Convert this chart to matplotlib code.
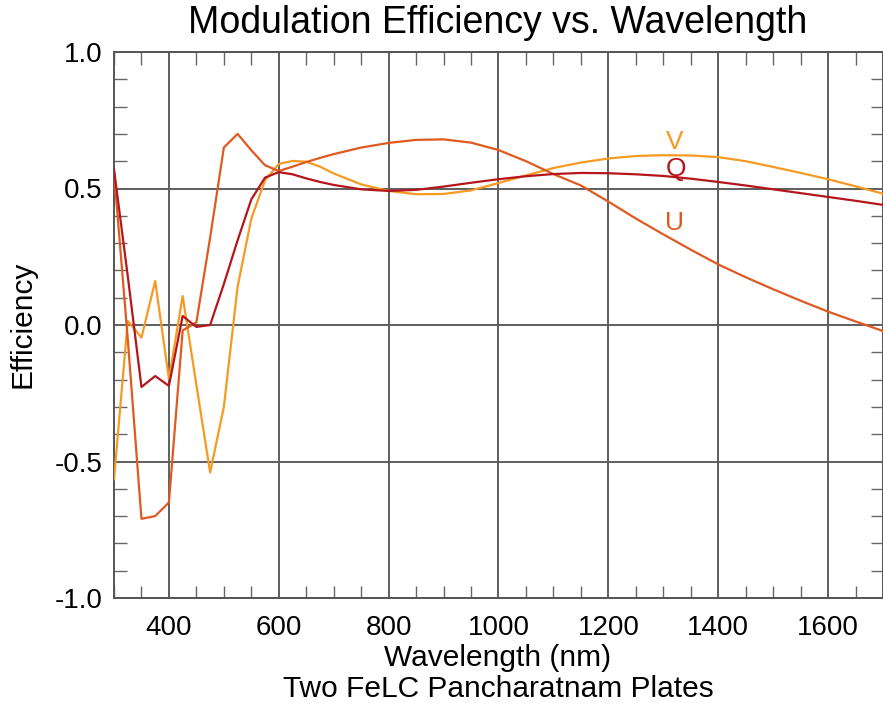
import matplotlib
matplotlib.use("Agg")
import matplotlib.pyplot as plt
from matplotlib.ticker import MultipleLocator

plt.rcParams['font.family'] = ['Liberation Sans', 'DejaVu Sans']

wavelength = [300, 325, 350, 375, 400, 425, 450, 475, 500, 525, 550, 575, 600,
              625, 650, 675, 700, 750, 800, 850, 900, 950, 1000, 1050, 1100,
              1150, 1200, 1250, 1300, 1350, 1400, 1450, 1500, 1550, 1600, 1650, 1700]

q_eff = [0.57, 0.18, -0.227, -0.187, -0.223, 0.033, -0.007, 0.0, 0.15, 0.31, 0.46, 0.54, 0.56,
         0.552, 0.537, 0.524, 0.513, 0.497, 0.491, 0.495, 0.507, 0.521, 0.534, 0.545, 0.553,
         0.557, 0.556, 0.552, 0.546, 0.536, 0.524, 0.511, 0.497, 0.483, 0.469, 0.455, 0.44]

u_eff = [0.56, -0.05, -0.71, -0.70, -0.65, -0.02, 0.01, 0.32, 0.65, 0.70, 0.64, 0.585, 0.564,
         0.58, 0.597, 0.612, 0.626, 0.650, 0.667, 0.678, 0.680, 0.668, 0.641, 0.600, 0.553,
         0.511, 0.452, 0.39, 0.332, 0.276, 0.222, 0.175, 0.131, 0.089, 0.049, 0.013, -0.022]

v_eff = [-0.565, 0.015, -0.046, 0.161, -0.198, 0.106, -0.22, -0.54, -0.30, 0.14, 0.39, 0.53, 0.59,
         0.601, 0.598, 0.58, 0.555, 0.515, 0.491, 0.479, 0.480, 0.493, 0.52, 0.548, 0.575,
         0.595, 0.61, 0.619, 0.622, 0.621, 0.615, 0.600, 0.579, 0.557, 0.534, 0.508, 0.481]

labels = ['V', 'Q', 'U']
label_x = [1320, 1323, 1320]
label_y = [0.672, 0.572, 0.375]

c_q = '#b5161c'
c_u = '#e05a20'
c_v = '#f59a22'
colors = [c_v, c_q, c_u]

W, H = 883, 703
fig = plt.figure(figsize=(W / 100, H / 100), dpi=100)
ax = fig.add_axes([114 / W, 1 - 598 / H, (883 - 114) / W, (598 - 52) / H])

ax.set_xlim(300, 1700)
ax.set_ylim(-1.0, 1.0)

ax.plot(wavelength, v_eff, color=c_v, lw=1.6, zorder=3)
ax.plot(wavelength, u_eff, color=c_u, lw=1.6, zorder=4)
ax.plot(wavelength, q_eff, color=c_q, lw=1.6, zorder=5)

for lab, lx, ly, col in zip(labels, label_x, label_y, colors):
    ax.text(lx, ly, lab, color=col, fontsize=19, ha='center', va='center', zorder=6)

ax.xaxis.set_major_locator(MultipleLocator(200))
ax.xaxis.set_minor_locator(MultipleLocator(50))
ax.yaxis.set_major_locator(MultipleLocator(0.5))
ax.yaxis.set_minor_locator(MultipleLocator(0.1))
ax.grid(True, which='major', color='#5e5e5e', lw=1.4, zorder=1)
ax.tick_params(which='both', direction='in', top=True, right=True, colors='#666666',
               labelcolor='black', labelsize=20)
ax.tick_params(which='major', length=0, pad=12)
ax.tick_params(which='minor', length=9, width=1.0)
ax.set_xticks([400, 600, 800, 1000, 1200, 1400, 1600])
ax.set_yticks([-1.0, -0.5, 0.0, 0.5, 1.0])
ax.set_yticklabels(['-1.0', '-0.5', '0.0', '0.5', '1.0'])
ax.tick_params(axis='y', which='major', pad=8)
for s in ax.spines.values():
    s.set_color('#555555')
    s.set_linewidth(1.4)

fig.text(498 / W, 1 - 23 / H, 'Modulation Efficiency vs. Wavelength', fontsize=27,
         ha='center', va='center')
fig.text(498 / W, 1 - 658 / H, 'Wavelength (nm)', fontsize=21.5, ha='center', va='center')
fig.text(498 / W, 1 - 689 / H, 'Two FeLC Pancharatnam Plates', fontsize=21.5,
         ha='center', va='center')
fig.text(37 / W, 1 - 324 / H, 'Efficiency', fontsize=21.5, rotation=90,
         ha='right', va='center')

fig.savefig('out.png', dpi=100)
